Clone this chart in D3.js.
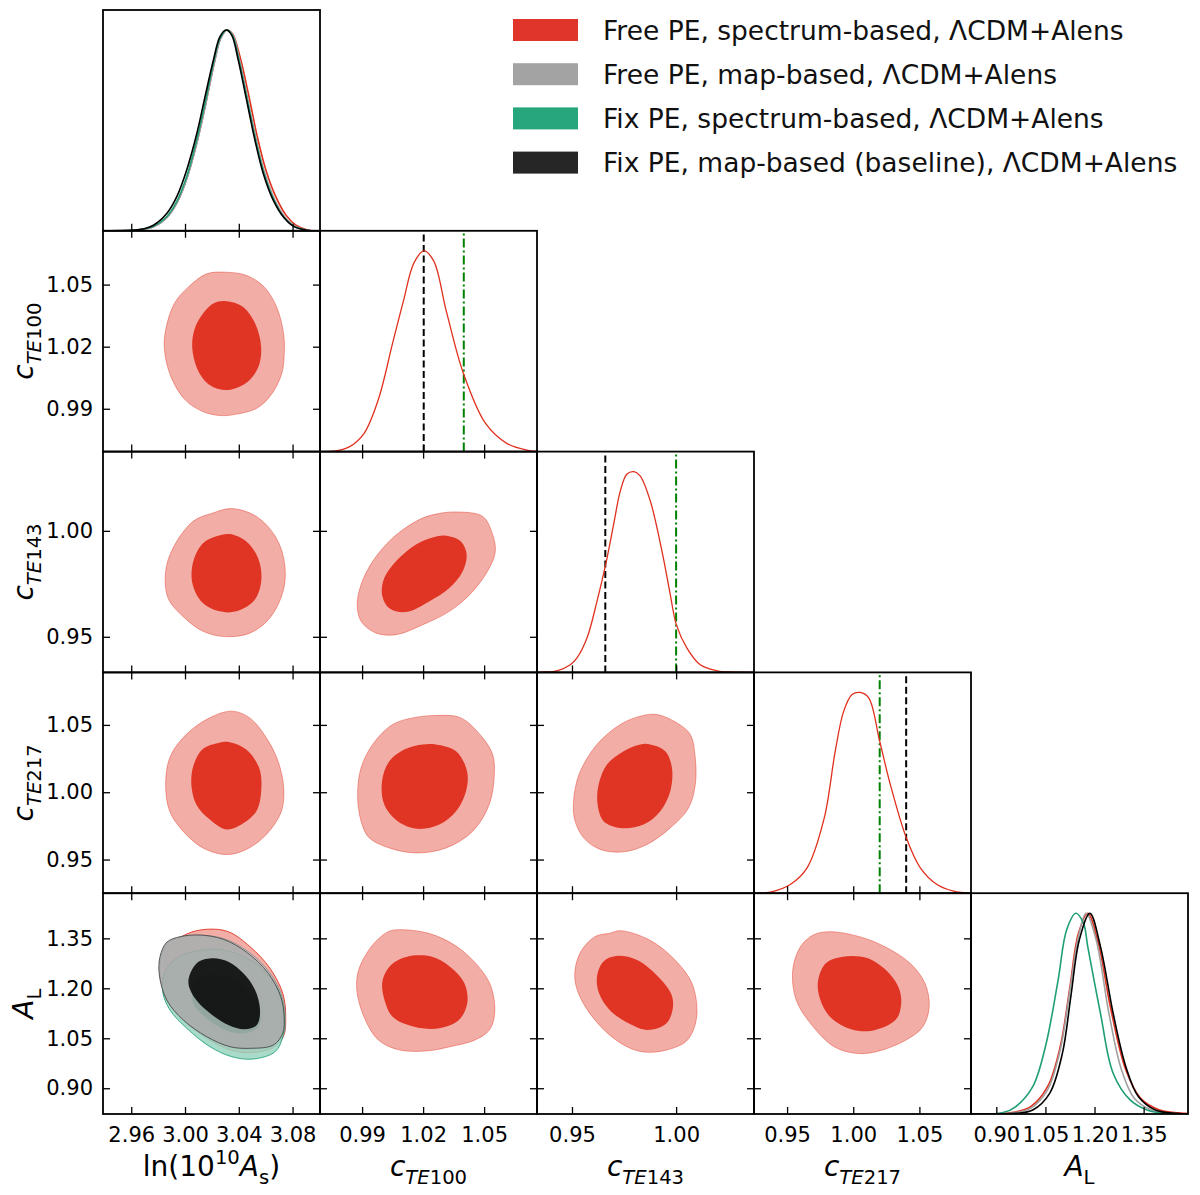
<!DOCTYPE html>
<html lang="en">
<head>
<meta charset="utf-8" />
<script src="https://d3js.org/d3.v7.min.js"></script>
<style>
  body { margin: 0; background: #fff; }
  svg { display: block; }
  text { font-family: 'DejaVu Sans', sans-serif; }
</style>
</head>
<body>
<svg id="chart" width="1200" height="1195"></svg>
<script>
// ---- parameters: axis ranges and ticks
const paramRanges = [[2.939, 3.1004], [0.9693, 1.0760], [0.9332, 1.0374], [0.925, 1.089], [0.8227, 1.4855]];
const paramTicks = [[2.96, 3.00, 3.04, 3.08], [0.99, 1.02, 1.05], [0.95, 1.00], [0.95, 1.00, 1.05], [0.90, 1.05, 1.20, 1.35]];

// fixed polarisation-efficiency values (vertical markers in the 1D panels)
const fixMapPE = [null, 1.0203, 0.966, 1.040, null];
const fixSpecPE = [null, 1.040, 1.000, 1.020, null];

// legend
const legendLabels = [
  'Free PE, spectrum-based, ΛCDM+Alens',
  'Free PE, map-based, ΛCDM+Alens',
  'Fix PE, spectrum-based, ΛCDM+Alens',
  'Fix PE, map-based (baseline), ΛCDM+Alens'
];
const legendColors = ['#e0352a', '#a3a3a3', '#27a67d', '#262626'];

// ---- 1D marginals [value, normalised density]
const lnAsRed = [[2.939,0],[2.9666,0.006],[2.9768,0.021],[2.9867,0.069],[2.9943,0.144],[3.0017,0.268],[3.0092,0.45],[3.0154,0.633],[3.0216,0.832],[3.0264,0.957],[3.0312,1.0],[3.0354,0.980],[3.0409,0.867],[3.0476,0.668],[3.0538,0.468],[3.0602,0.302],[3.0676,0.169],[3.0751,0.078],[3.0825,0.028],[3.0917,0.003],[3.1004,0]];
const lnAsGrey = [[2.939,0],[2.9666,0.006],[2.9771,0.021],[2.9870,0.069],[2.9944,0.144],[3.0018,0.268],[3.0093,0.45],[3.0155,0.634],[3.0217,0.833],[3.0266,0.958],[3.0312,1.0],[3.0356,0.976],[3.0405,0.852],[3.0467,0.655],[3.0530,0.455],[3.0592,0.29],[3.0666,0.157],[3.0741,0.07],[3.0815,0.024],[3.0908,0.003],[3.1004,0]];
const lnAsGreen = [[2.939,0],[2.9666,0.006],[2.9765,0.022],[2.9864,0.070],[2.9938,0.145],[3.0012,0.269],[3.0087,0.452],[3.0149,0.635],[3.0211,0.834],[3.0260,0.958],[3.0310,1.0],[3.0352,0.975],[3.0401,0.850],[3.0463,0.651],[3.0525,0.452],[3.0587,0.286],[3.0661,0.153],[3.0736,0.066],[3.0810,0.022],[3.0904,0.003],[3.1004,0]];
const lnAsBlack = [[2.939,0],[2.9666,0.0066],[2.9765,0.028],[2.9864,0.086],[2.9938,0.169],[3.0012,0.302],[3.0087,0.482],[3.0149,0.668],[3.0211,0.850],[3.0260,0.967],[3.0305,1.0],[3.0347,0.975],[3.0396,0.850],[3.0458,0.651],[3.0520,0.452],[3.0582,0.286],[3.0656,0.153],[3.0731,0.070],[3.0805,0.023],[3.0904,0.003],[3.1004,0]];
const cte100Red = [[0.9693,0],[0.9769,0.003],[0.9839,0.025],[0.9909,0.09],[0.9980,0.26],[1.0050,0.54],[1.0103,0.75],[1.0155,0.94],[1.0204,1.0],[1.0252,0.95],[1.0314,0.70],[1.0398,0.39],[1.0507,0.14],[1.0613,0.04],[1.0716,0.006],[1.0760,0.001]];
const cte143Red = [[0.9332,0],[0.9364,0.002],[0.9428,0.008],[0.9492,0.038],[0.9524,0.072],[0.9572,0.171],[0.9620,0.354],[0.9660,0.529],[0.9700,0.737],[0.9732,0.903],[0.9764,0.988],[0.9798,1.0],[0.9828,0.978],[0.9876,0.854],[0.9932,0.604],[0.9972,0.388],[1.0001,0.238],[1.0052,0.121],[1.0116,0.038],[1.0196,0.008],[1.0260,0.002],[1.0374,0]];
const cte217Red = [[0.925,0],[0.9373,0.005],[0.9524,0.043],[0.9651,0.126],[0.9781,0.375],[0.9864,0.708],[0.9928,0.907],[0.9991,0.990],[1.0053,1.0],[1.0117,0.973],[1.0200,0.757],[1.0280,0.542],[1.0401,0.276],[1.0507,0.126],[1.0633,0.043],[1.0759,0.010],[1.089,0]];
const alRed = [[0.8227,0],[0.9467,0.007],[1.0049,0.037],[1.0566,0.136],[1.0953,0.336],[1.1250,0.635],[1.1509,0.900],[1.1793,1.0],[1.2116,0.850],[1.2503,0.518],[1.2956,0.219],[1.3408,0.078],[1.3989,0.020],[1.4764,0.003],[1.4855,0.002]];
const alGrey = [[0.8227,0],[0.9467,0.005],[1.0049,0.028],[1.0566,0.120],[1.0953,0.319],[1.1250,0.618],[1.1509,0.884],[1.1741,1.0],[1.2051,0.867],[1.2439,0.502],[1.2826,0.219],[1.3214,0.078],[1.3731,0.020],[1.4377,0.003],[1.4855,0]];
const alGreen = [[0.8227,0],[0.9209,0.007],[0.9597,0.037],[1.0113,0.136],[1.0501,0.336],[1.0889,0.668],[1.1147,0.917],[1.1431,1.0],[1.1664,0.950],[1.1793,0.834],[1.2181,0.502],[1.2568,0.203],[1.3085,0.070],[1.3602,0.020],[1.4118,0.003],[1.4855,0]];
const alBlack = [[0.8227,0],[0.9597,0.003],[1.0113,0.020],[1.0630,0.103],[1.1018,0.302],[1.1276,0.585],[1.1535,0.867],[1.1858,1.0],[1.2181,0.834],[1.2568,0.502],[1.2956,0.236],[1.3343,0.086],[1.3860,0.020],[1.4506,0.003],[1.4855,0]];

// ---- 2D contours (68% inner / 95% outer), [x value, y value]
// row cTE100, column ln(10^10 As)
const r1c0Outer = [[3.0294,1.0560],[3.0454,1.0545],[3.0587,1.0490],[3.0680,1.0394],[3.0733,1.0265],[3.0738,1.0168],[3.0720,1.0071],[3.0640,0.9967],[3.0533,0.9902],[3.0374,0.9873],[3.0268,0.9867],[3.0135,0.9886],[3.0001,0.9943],[2.9895,1.0055],[2.9847,1.0185],[2.9856,1.0281],[2.9922,1.0410],[3.0028,1.0490],[3.0161,1.0552]];
const r1c0Inner = [[3.0294,1.0421],[3.0427,1.0394],[3.0521,1.0313],[3.0566,1.0200],[3.0547,1.0104],[3.0467,1.0031],[3.0321,0.9991],[3.0201,1.0007],[3.0108,1.0071],[3.0055,1.0185],[3.0069,1.0281],[3.0135,1.0361],[3.0214,1.0410]];
// row cTE143
const r2c0Outer = [[3.0345,1.0105],[3.0531,1.0068],[3.0679,0.9966],[3.0742,0.9840],[3.0729,0.9714],[3.0630,0.9588],[3.0481,0.9517],[3.0295,0.9501],[3.0134,0.9526],[2.9985,0.9596],[2.9874,0.9683],[2.9856,0.9809],[2.9911,0.9919],[3.0060,1.0045],[3.0208,1.0084]];
const r2c0Inner = [[3.0333,0.9985],[3.0456,0.9950],[3.0543,0.9872],[3.0568,0.9770],[3.0519,0.9675],[3.0382,0.9620],[3.0258,0.9620],[3.0121,0.9667],[3.0052,0.9762],[3.0065,0.9864],[3.0134,0.9942],[3.0233,0.9974]];
const r2c1Outer = [[1.0362,1.0089],[1.0493,1.0068],[1.0542,0.9982],[1.0555,0.9903],[1.0525,0.9824],[1.0444,0.9714],[1.0329,0.9620],[1.0198,0.9557],[1.0067,0.9510],[0.9968,0.9518],[0.9895,0.9573],[0.9876,0.9652],[0.9895,0.9746],[0.9952,0.9856],[1.0050,0.9966],[1.0181,1.0053],[1.0263,1.0079]];
const r2c1Inner = [[1.0313,0.9977],[1.0386,0.9950],[1.0414,0.9888],[1.0395,0.9809],[1.0329,0.9730],[1.0230,0.9667],[1.0116,0.9617],[1.0034,0.9635],[0.9998,0.9699],[1.0009,0.9777],[1.0067,0.9856],[1.0165,0.9935],[1.0247,0.9969]];
// row cTE217
const r3c0Outer = [[3.0345,1.0602],[3.0481,1.0552],[3.0605,1.0404],[3.0692,1.0230],[3.0734,1.0032],[3.0717,0.9859],[3.0605,0.9686],[3.0456,0.9575],[3.0307,0.9537],[3.0134,0.9586],[2.9985,0.9711],[2.9886,0.9859],[2.9856,1.0057],[2.9886,1.0255],[2.9985,1.0404],[3.0159,1.0540]];
const r3c0Inner = [[3.0333,1.0372],[3.0456,1.0317],[3.0551,1.0181],[3.0568,1.0032],[3.0531,0.9859],[3.0419,0.9760],[3.0307,0.9723],[3.0184,0.9797],[3.0084,0.9909],[3.0047,1.0057],[3.0065,1.0206],[3.0134,1.0322],[3.0246,1.0366]];
const r3c1Outer = [[1.0263,1.0570],[1.0386,1.0552],[1.0493,1.0404],[1.0542,1.0280],[1.0550,1.0132],[1.0525,0.9909],[1.0444,0.9711],[1.0313,0.9586],[1.0165,0.9549],[1.0034,0.9586],[0.9935,0.9661],[0.9895,0.9785],[0.9878,0.9983],[0.9895,1.0181],[0.9952,1.0355],[1.0050,1.0503],[1.0149,1.0552]];
const r3c1Inner = [[1.0263,1.0355],[1.0362,1.0305],[1.0416,1.0156],[1.0411,1.0008],[1.0362,0.9859],[1.0280,0.9760],[1.0173,0.9728],[1.0075,0.9785],[1.0009,0.9909],[0.9998,1.0082],[1.0034,1.0230],[1.0116,1.0322],[1.0198,1.0355]];
const r3c2Outer = [[0.9908,1.0577],[1.0004,1.0515],[1.0068,1.0429],[1.0092,1.0255],[1.0092,1.0057],[1.0060,0.9884],[0.9972,0.9735],[0.9860,0.9612],[0.9748,0.9557],[0.9636,0.9575],[0.9556,0.9661],[0.9511,0.9809],[0.9511,0.9983],[0.9540,1.0156],[0.9620,1.0355],[0.9732,1.0503],[0.9828,1.0565]];
const r3c2Inner = [[0.9876,1.0355],[0.9948,1.0305],[0.9980,1.0181],[0.9972,1.0008],[0.9924,0.9859],[0.9844,0.9760],[0.9732,0.9735],[0.9652,0.9785],[0.9623,0.9909],[0.9628,1.0057],[0.9668,1.0206],[0.9748,1.0305],[0.9828,1.0355]];
// row A_L
const r4c1Outer = [[1.0059,1.3751],[1.0227,1.3652],[1.0367,1.3249],[1.0473,1.2649],[1.0534,1.2049],[1.0552,1.1250],[1.0526,1.0749],[1.0455,1.0449],[1.0332,1.0247],[1.0227,1.0127],[1.0085,1.0148],[0.9980,1.0449],[0.9909,1.1148],[0.9874,1.1949],[0.9883,1.2550],[0.9945,1.3249],[1.0015,1.3652]];
const r4c1Inner = [[1.0121,1.2949],[1.0244,1.2949],[1.0332,1.2649],[1.0403,1.2151],[1.0417,1.1550],[1.0376,1.1049],[1.0279,1.0800],[1.0156,1.0848],[1.0050,1.1148],[1.0006,1.1748],[1.0001,1.2250],[1.0042,1.2700]];
const r4c2Outer = [[0.9681,1.3652],[0.9732,1.3730],[0.9873,1.3450],[0.9995,1.2850],[1.0076,1.2151],[1.0100,1.1250],[1.0076,1.0650],[1.0036,1.0349],[0.9914,1.0097],[0.9813,1.0127],[0.9711,1.0448],[0.9610,1.1049],[0.9538,1.1748],[0.9513,1.2349],[0.9538,1.3051],[0.9610,1.3550]];
const r4c2Inner = [[0.9711,1.2970],[0.9813,1.2850],[0.9914,1.2349],[0.9975,1.1850],[0.9985,1.1448],[0.9954,1.0950],[0.9863,1.0749],[0.9772,1.0950],[0.9681,1.1349],[0.9630,1.1850],[0.9620,1.2349],[0.9650,1.2799]];
const r4c3Outer = [[0.9824,1.3700],[1.0047,1.3550],[1.0239,1.3249],[1.0430,1.2751],[1.0542,1.2151],[1.0574,1.1448],[1.0526,1.0848],[1.0399,1.0448],[1.0175,1.0097],[1.0016,1.0049],[0.9856,1.0247],[0.9697,1.0848],[0.9569,1.1649],[0.9543,1.2550],[0.9601,1.3249],[0.9697,1.3600]];
const r4c3Inner = [[0.9920,1.2949],[1.0111,1.2901],[1.0271,1.2451],[1.0350,1.1950],[1.0360,1.1448],[1.0319,1.1049],[1.0143,1.0728],[0.9984,1.0770],[0.9824,1.1148],[0.9744,1.1748],[0.9735,1.2250],[0.9793,1.2751]];
// A_L vs ln(10^10 As): all four runs
const alAsRedOuter = [[3.0013,1.3631],[3.0162,1.3772],[3.0322,1.3700],[3.0484,1.3249],[3.0632,1.2601],[3.0727,1.1850],[3.0749,1.1148],[3.0731,1.0547],[3.0645,1.0199],[3.0484,1.0067],[3.0335,1.0148],[3.0162,1.0499],[2.9987,1.1049],[2.9876,1.1700],[2.9844,1.2451],[2.9888,1.3249]];
const alAsRedInner = [[3.0087,1.2649],[3.0223,1.2850],[3.0372,1.2700],[3.0508,1.2250],[3.0578,1.1598],[3.0578,1.0950],[3.0508,1.0599],[3.0359,1.0599],[3.0211,1.0899],[3.0087,1.1400],[3.0037,1.2049]];
const alAsGreyOuter = [[2.9815,1.2380],[2.9822,1.2920],[2.9870,1.3350],[2.9970,1.3530],[3.0120,1.3590],[3.0295,1.3480],[3.0470,1.3100],[3.0630,1.2470],[3.0722,1.1760],[3.0745,1.1150],[3.0735,1.0640],[3.0662,1.0280],[3.0490,1.0180],[3.0340,1.0225],[3.0165,1.0520],[2.9990,1.1020],[2.9868,1.1620]];
const alAsGreyInner = [[3.0074,1.2499],[3.0211,1.2700],[3.0359,1.2550],[3.0496,1.2100],[3.0571,1.1448],[3.0578,1.0848],[3.0521,1.0499],[3.0385,1.0449],[3.0236,1.0698],[3.0099,1.1199],[3.0037,1.1850]];
const alAsGreenOuter = [[2.9851,1.2499],[2.9938,1.2901],[3.0062,1.3099],[3.0236,1.3171],[3.0409,1.3000],[3.0571,1.2601],[3.0694,1.1950],[3.0737,1.1250],[3.0727,1.0547],[3.0670,1.0097],[3.0508,0.9878],[3.0348,0.9947],[3.0186,1.0247],[3.0013,1.0800],[2.9888,1.1349],[2.9834,1.1899]];
const alAsGreenInner = [[3.0074,1.2199],[3.0199,1.2400],[3.0348,1.2301],[3.0484,1.1898],[3.0558,1.1349],[3.0545,1.0848],[3.0446,1.0650],[3.0298,1.0749],[3.0162,1.1100],[3.0062,1.1550]];
const alAsBlackOuter = [[2.9809,1.2400],[2.9814,1.2949],[2.9864,1.3381],[2.9963,1.3549],[3.0112,1.3600],[3.0285,1.3471],[3.0459,1.3081],[3.0620,1.2451],[3.0712,1.1748],[3.0737,1.1148],[3.0727,1.0650],[3.0657,1.0298],[3.0484,1.0199],[3.0335,1.0247],[3.0162,1.0547],[2.9987,1.1049],[2.9864,1.1649]];
const alAsBlackInner = [[3.0087,1.2751],[3.0199,1.2901],[3.0322,1.2799],[3.0434,1.2451],[3.0521,1.1950],[3.0558,1.1349],[3.0534,1.0899],[3.0446,1.0770],[3.0322,1.0899],[3.0186,1.1250],[3.0074,1.1700],[3.0025,1.2199]];

// ---- layout
const svg = d3.select('#chart');
const gridLeft = 103, gridTop = 10, cellW = 217, cellH = 220.8, nPar = 5, tickLen = 7;
const fmt = d3.format('.2f');

const xs = paramRanges.map((r, j) => d3.scaleLinear().domain(r).range([gridLeft + j * cellW, gridLeft + (j + 1) * cellW]));
const ys = paramRanges.map((r, i) => d3.scaleLinear().domain(r).range([gridTop + (i + 1) * cellH, gridTop + i * cellH]));
const ys1D = d3.range(nPar).map(i => d3.scaleLinear().domain([0, 1.1]).range([gridTop + (i + 1) * cellH, gridTop + i * cellH]));

const red = { dark: '#e03424', light: '#f2aea6', line: '#e0301e' };
const defs = svg.append('defs');

function styleAxis(g) {
  g.select('.domain').remove();
  g.selectAll('.tick line').attr('stroke', '#000').attr('stroke-width', 1.3);
  g.selectAll('text').attr('font-family', "'DejaVu Sans', sans-serif").attr('font-size', 21).attr('fill', '#000');
}

function contourLine(x, y) {
  return d3.line().x(d => x(d[0])).y(d => y(d[1])).curve(d3.curveCatmullRomClosed.alpha(0.5));
}

// 2D panels holding the single (red) run
const singlePanels = [
  { i: 1, j: 0, outer: r1c0Outer, inner: r1c0Inner },
  { i: 2, j: 0, outer: r2c0Outer, inner: r2c0Inner },
  { i: 2, j: 1, outer: r2c1Outer, inner: r2c1Inner },
  { i: 3, j: 0, outer: r3c0Outer, inner: r3c0Inner },
  { i: 3, j: 1, outer: r3c1Outer, inner: r3c1Inner },
  { i: 3, j: 2, outer: r3c2Outer, inner: r3c2Inner },
  { i: 4, j: 1, outer: r4c1Outer, inner: r4c1Inner },
  { i: 4, j: 2, outer: r4c2Outer, inner: r4c2Inner },
  { i: 4, j: 3, outer: r4c3Outer, inner: r4c3Inner }
];

const plotArea = svg.append('g');

singlePanels.forEach(p => {
  const line = contourLine(xs[p.j], ys[p.i]);
  plotArea.append('path').attr('d', line(p.outer))
    .attr('fill', red.light).attr('stroke', red.dark).attr('stroke-width', 0.8).attr('stroke-opacity', 0.55);
  plotArea.append('path').attr('d', line(p.inner)).attr('fill', red.dark);
});

// A_L vs lnAs, layered (first legend entry at the bottom)
const multiRuns = [
  { outer: alAsRedOuter, inner: alAsRedInner, light: '#f0a097', dark: '#db1000', edge: '#e03424' },
  { outer: alAsGreyOuter, inner: alAsGreyInner, light: '#d6d6d6', dark: '#9a9a9a', edge: '#8a8a8a' },
  { outer: alAsGreenOuter, inner: alAsGreenInner, light: '#9ad5c2', dark: '#019666', edge: '#27a67d' },
  { outer: alAsBlackOuter, inner: alAsBlackInner, light: '#a9a8a8', dark: '#000000', edge: '#4a4a4a' }
];
{
  const line = contourLine(xs[0], ys[4]);
  multiRuns.forEach(r => {
    plotArea.append('path').attr('d', line(r.outer)).attr('fill', r.light).attr('fill-opacity', 0.85)
      .attr('stroke', r.edge).attr('stroke-width', 0.9);
    plotArea.append('path').attr('d', line(r.inner)).attr('fill', r.dark).attr('fill-opacity', 0.85);
  });
}

// ---- 1D panels
const oneD = [
  { i: 0, curves: [[lnAsRed, '#e0301e'], [lnAsGrey, '#a0a0a0'], [lnAsGreen, '#1f9e77'], [lnAsBlack, '#000000']] },
  { i: 1, curves: [[cte100Red, '#e0301e']] },
  { i: 2, curves: [[cte143Red, '#e0301e']] },
  { i: 3, curves: [[cte217Red, '#e0301e']] },
  { i: 4, curves: [[alRed, '#e0301e'], [alGrey, '#a0a0a0'], [alGreen, '#1f9e77'], [alBlack, '#000000']] }
];

oneD.forEach(p => {
  const x = xs[p.i], y = ys1D[p.i];
  const id = 'clip' + p.i;
  defs.append('clipPath').attr('id', id).append('rect')
    .attr('x', x.range()[0]).attr('y', y.range()[1])
    .attr('width', cellW).attr('height', cellH);
  const g = plotArea.append('g').attr('clip-path', `url(#${id})`);
  const line = d3.line().x(d => x(d[0])).y(d => y(d[1])).curve(d3.curveCatmullRom.alpha(0.5));
  if (fixMapPE[p.i] !== null) {
    g.append('line').attr('x1', x(fixMapPE[p.i])).attr('x2', x(fixMapPE[p.i]))
      .attr('y1', y.range()[0]).attr('y2', y.range()[1])
      .attr('stroke', '#000').attr('stroke-width', 2).attr('stroke-dasharray', '7,3.5');
    g.append('line').attr('x1', x(fixSpecPE[p.i])).attr('x2', x(fixSpecPE[p.i]))
      .attr('y1', y.range()[0]).attr('y2', y.range()[1])
      .attr('stroke', '#008000').attr('stroke-width', 2).attr('stroke-dasharray', '9,3,2,3');
  }
  p.curves.forEach(([data, col]) => {
    g.append('path').attr('d', line(data)).attr('fill', 'none')
      .attr('stroke', col).attr('stroke-width', p.curves.length > 1 ? 1.6 : 1.3);
  });
});

// ---- frames and ticks
for (let i = 0; i < nPar; i++) {
  for (let j = 0; j <= i; j++) {
    const x = xs[j];
    const x0 = gridLeft + j * cellW, y0 = gridTop + i * cellH;
    const g = svg.append('g');
    // bottom ticks (labels only on the last row)
    g.append('g').attr('transform', `translate(0,${y0 + cellH})`)
      .call(d3.axisBottom(x).tickValues(paramTicks[j]).tickSizeInner(-tickLen).tickSizeOuter(0)
        .tickPadding(13).tickFormat(i === nPar - 1 ? fmt : () => ''))
      .call(styleAxis);
    if (i !== j) {
      const y = ys[i];
      g.append('g').attr('transform', `translate(0,${y0})`)
        .call(d3.axisTop(x).tickValues(paramTicks[j]).tickSizeInner(-tickLen).tickSizeOuter(0).tickFormat(() => ''))
        .call(styleAxis);
      g.append('g').attr('transform', `translate(${x0},0)`)
        .call(d3.axisLeft(y).tickValues(paramTicks[i]).tickSizeInner(-tickLen).tickSizeOuter(0)
          .tickPadding(10).tickFormat(j === 0 ? fmt : () => ''))
        .call(styleAxis);
      g.append('g').attr('transform', `translate(${x0 + cellW},0)`)
        .call(d3.axisRight(y).tickValues(paramTicks[i]).tickSizeInner(-tickLen).tickSizeOuter(0).tickFormat(() => ''))
        .call(styleAxis);
    }
    g.append('rect').attr('x', x0).attr('y', y0).attr('width', cellW).attr('height', cellH)
      .attr('fill', 'none').attr('stroke', '#000').attr('stroke-width', 1.8);
  }
}

// ---- axis labels with sub/superscripts
const axisLabels = [
  [{ t: 'ln(10' }, { t: '10', sup: true }, { t: 'A', it: true }, { t: 's', sub: true }, { t: ')' }],
  [{ t: 'c', it: true }, { t: 'TE', it: true, sub: true }, { t: '100', sub: true }],
  [{ t: 'c', it: true }, { t: 'TE', it: true, sub: true }, { t: '143', sub: true }],
  [{ t: 'c', it: true }, { t: 'TE', it: true, sub: true }, { t: '217', sub: true }],
  [{ t: 'A', it: true }, { t: 'L', sub: true }]
];
const labelSize = 28;

function writeLabel(text, parts) {
  let shift = 0;
  parts.forEach(p => {
    const target = p.sub ? 0.3 * labelSize : p.sup ? -0.42 * labelSize : 0;
    text.append('tspan').text(p.t)
      .attr('dy', target - shift)
      .attr('font-size', p.sub || p.sup ? labelSize * 0.7 : labelSize)
      .attr('font-style', p.it ? 'italic' : 'normal');
    shift = target;
  });
}

axisLabels.forEach((parts, k) => {
  const t = svg.append('text').attr('text-anchor', 'middle')
    .attr('x', gridLeft + (k + 0.5) * cellW).attr('y', 1176).attr('font-size', labelSize);
  writeLabel(t, parts);
  if (k > 0) {
    const yc = gridTop + (k + 0.5) * cellH;
    const r = svg.append('text').attr('text-anchor', 'middle').attr('font-size', labelSize)
      .attr('transform', `translate(33,${yc}) rotate(-90)`);
    writeLabel(r, parts);
  }
});

// ---- legend
const legend = svg.append('g');
legendLabels.forEach((lab, k) => {
  const yc = 30 + k * 44.2;
  legend.append('rect').attr('x', 513).attr('y', yc - 11).attr('width', 65).attr('height', 22)
    .attr('fill', legendColors[k]);
  legend.append('text').attr('x', 603).attr('y', yc + 9.5).attr('font-size', 26.5).attr('fill', '#111').text(lab);
});
</script>
</body>
</html>
